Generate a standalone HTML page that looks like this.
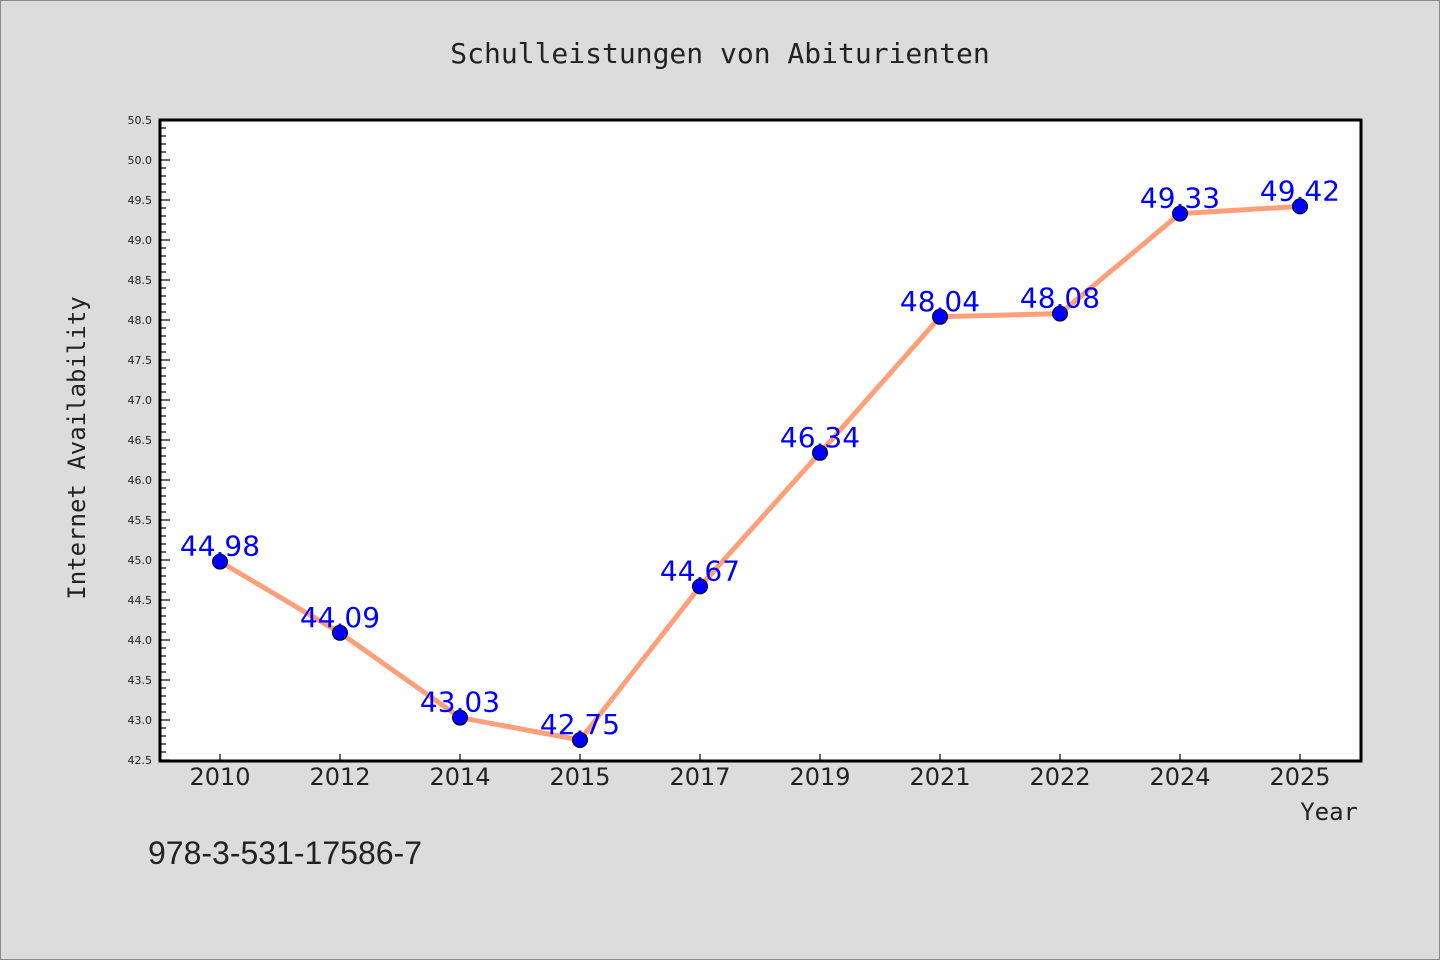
<!DOCTYPE html>
<html><head><meta charset="utf-8"><style>
html,body{margin:0;padding:0;background:#dcdcdc;}
svg{display:block;font-family:"DejaVu Sans Mono","Liberation Mono",monospace;}
</style></head><body>
<svg id="chart" width="1440" height="960" xmlns="http://www.w3.org/2000/svg">
<rect x="0.5" y="0.5" width="1439" height="959" fill="#dcdcdc" stroke="#888"/>
<text x="720" y="63" text-anchor="middle" font-size="28" fill="#222">Schulleistungen von Abiturienten</text>
<rect x="160" y="120" width="1201" height="641" fill="#fff" stroke="#000" stroke-width="3"/>
<text transform="translate(85,448) rotate(-90)" text-anchor="middle" font-size="24" fill="#222">Internet Availability</text>
<text x="1358" y="820" text-anchor="end" font-size="24" fill="#222">Year</text>
<text x="148" y="864" font-size="32" fill="#222" font-family="Liberation Sans, sans-serif">978-3-531-17586-7</text>
<g id="yticks"></g><g id="xticks"></g><g id="series"></g>
</svg>
<script>
const years = ["2010","2012","2014","2015","2017","2019","2021","2022","2024","2025"];
const values = [44.98,44.09,43.03,42.75,44.67,46.34,48.04,48.08,49.33,49.42];
const valueLabels = ["44.98","44.09","43.03","42.75","44.67","46.34","48.04","48.08","49.33","49.42"];
const yTickLabels = ["42.5","43.0","43.5","44.0","44.5","45.0","45.5","46.0","46.5","47.0","47.5","48.0","48.5","49.0","49.5","50.0","50.5"];
const yMin = 42.5, yMax = 50.5;
const NS="http://www.w3.org/2000/svg";
function y(v){return 760-(v-yMin)/(yMax-yMin)*640;}
function x(i){return 220+i*120;}
function mk(tag,attrs,parent){const e=document.createElementNS(NS,tag);for(const k in attrs)e.setAttribute(k,attrs[k]);parent.appendChild(e);return e;}
const yt=document.getElementById('yticks');
for(let k=0;k<=80;k++){
  const v=yMin+k*0.1, yy=y(v), major=k%5===0;
  const t=mk('line',{x1:160,x2:major?170:166,y1:yy,y2:yy,stroke:'#000','stroke-width':1.2},yt);
  
  
}
yTickLabels.forEach(s=>{
  const t=mk('text',{x:152,y:y(parseFloat(s))+4,'text-anchor':'end','font-size':11,fill:'#222','font-family':'DejaVu Sans, sans-serif'},yt);
  t.textContent=s;
  
  
});
const xt=document.getElementById('xticks');
years.forEach((s,i)=>{
  const l=mk('line',{x1:x(i),x2:x(i),y1:760,y2:754,stroke:'#000','stroke-width':1.2},xt);
  
  
  const t=mk('text',{x:x(i),y:785,'text-anchor':'middle','font-size':24,fill:'#222','font-family':'DejaVu Sans, sans-serif'},xt);
  t.textContent=s;
  
  
});
const sg=document.getElementById('series');
const pl=mk('polyline',{points:values.map((v,i)=>x(i)+','+y(v)).join(' '),fill:'none',stroke:'#ffa07a','stroke-width':5,'stroke-linejoin':'round'},sg);


values.forEach((v,i)=>{
  const c=mk('circle',{cx:x(i),cy:y(v),r:7.5,fill:'#0000ff',stroke:'#000','stroke-width':1},sg);
  
  
  const t=mk('text',{x:x(i),y:y(v)-6,'text-anchor':'middle','font-size':28,fill:'#0000ff','font-family':'DejaVu Sans, sans-serif'},sg);
  t.textContent=valueLabels[i];
  
  
});
</script>
</body></html>
